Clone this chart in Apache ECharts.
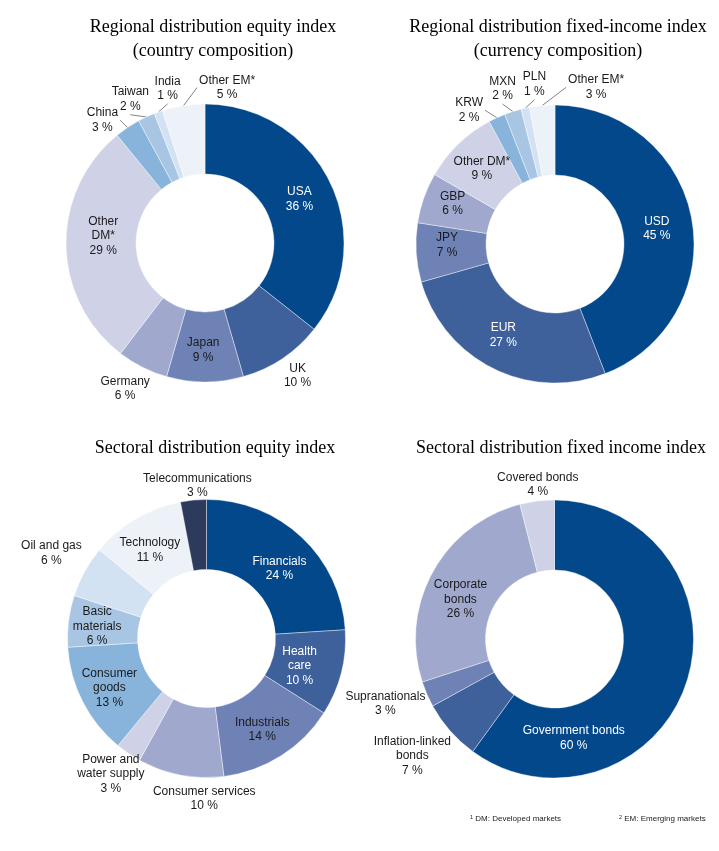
<!DOCTYPE html>
<html>
<head>
<meta charset="utf-8">
<script src="https://cdn.jsdelivr.net/npm/echarts@6/dist/echarts.min.js"></script>
<style>html,body{margin:0;padding:0;background:#fff}#c{width:719px;height:851px}</style>
</head>
<body>
<div id="c"></div>
<script>
// ---------- DATA ----------
const countryNames = ['USA', 'UK', 'Japan', 'Germany', 'Other\nDM*', 'China', 'Taiwan', 'India', 'Other EM*'];
const countryValues = [36, 10, 9, 6, 29, 3, 2, 1, 5];

const currencyNames = ['USD', 'EUR', 'JPY', 'GBP', 'Other DM*', 'KRW', 'MXN', 'PLN', 'Other EM*'];
const currencyValues = [45, 27, 7, 6, 9, 2, 2, 1, 3];

const sectorNames = ['Financials', 'Health\ncare', 'Industrials', 'Consumer services', 'Power and\nwater supply',
  'Consumer\ngoods', 'Basic\nmaterials', 'Oil and gas', 'Technology', 'Telecommunications'];
const sectorValues = [24, 10, 14, 10, 3, 13, 6, 6, 11, 3];

const fixedNames = ['Government bonds', 'Inflation-linked\nbonds', 'Supranationals', 'Corporate\nbonds', 'Covered bonds'];
const fixedValues = [60, 7, 3, 26, 4];

const chartTitles = [
  'Regional distribution equity index\n(country composition)',
  'Regional distribution fixed-income index\n(currency composition)',
  'Sectoral distribution equity index',
  'Sectoral distribution fixed income index'
];
const footnotes = ['{s|1} DM: Developed markets', '{s|2} EM: Emerging markets'];

// ---------- STYLE ----------
const C = {
  navy: '#03488a', blue2: '#3e609b', blue3: '#6f82b5', blue4: '#a0a9cd', lav: '#cfd1e7',
  sky1: '#88b4db', sky2: '#a8c6e4', sky3: '#d3e2f2', sky4: '#edf2f9', dark: '#2c3a5b'
};
const countryColors = [C.navy, C.blue2, C.blue3, C.blue4, C.lav, C.sky1, C.sky2, C.sky3, C.sky4];
const currencyColors = [C.navy, C.blue2, C.blue3, C.blue4, C.lav, C.sky1, C.sky2, C.sky3, C.sky4];
const sectorColors = [C.navy, C.blue2, C.blue3, C.blue4, C.lav, C.sky1, C.sky2, C.sky3, C.sky4, C.dark];
const fixedColors = [C.navy, C.blue2, C.blue3, C.blue4, C.lav];

// label placement: [radius, angle shift from slice mid-angle in degrees], leader line flag, white text flag
const countryPlace = [[104, 1], [162, -1], [107, 1], [166, 2], [102, 5], [160, -6], [162, -2.5], [159, 6], [157, 17]];
const countryLeader = [0, 0, 0, 0, 0, 1, 1, 1, 1];
const countryWhite = [1, 0, 0, 0, 0, 0, 0, 0, 0];

const currencyPlace = [[103, 2], [105, 3], [108, 3], [110, 2], [105, 0], [159, -8], [164, -1], [161, 5], [162, 20]];
const currencyLeader = [0, 0, 0, 0, 0, 1, 1, 1, 1];
const currencyWhite = [1, 1, 0, 0, 0, 0, 0, 0, 0];

const sectorPlace = [[101, 3], [97, 2], [107, 1], [160, -10], [166, 1], [109, 0], [110, -1], [177, 0], [105, -2], [153, 2]];
const sectorLeader = [0, 0, 0, 0, 0, 0, 0, 0, 0, 0];
const sectorWhite = [1, 1, 0, 0, 0, 0, 0, 0, 0, 0];

const fixedPlace = [[101, 61], [184, 2], [181, 2.5], [102, -6], [155, 1]];
const fixedLeader = [0, 0, 0, 0, 0];
const fixedWhite = [1, 0, 0, 0, 0];

const centers = [[205, 243], [555, 244], [206.5, 638.5], [554.5, 639]];
const RADIUS = [69, 139];

function makeSeries(names, values, colors, place, leader, white, center) {
  const total = values.reduce((a, b) => a + b, 0);
  const mids = [];
  let cum = 0;
  values.forEach(v => { mids.push((cum + v / 2) / total * 360); cum += v; });
  const data = names.map((n, i) => ({
    name: n,
    value: values[i],
    itemStyle: { color: colors[i] },
    label: {
      position: leader[i] ? 'outside' : 'inside',
      color: white[i] ? '#ffffff' : '#1a1a1a'
    },
    labelLine: { show: !!leader[i] }
  }));
  return {
    type: 'pie',
    center: center,
    radius: RADIUS,
    startAngle: 90,
    clockwise: true,
    avoidLabelOverlap: false,
    silent: true,
    itemStyle: { borderColor: '#ffffff', borderWidth: 0.4 },
    label: {
      show: true,
      formatter: p => p.name + '\n' + p.value + ' %',
      fontFamily: 'Liberation Sans, Arial, sans-serif',
      fontSize: 12,
      lineHeight: 14.5,
      padding: [1, 2]
    },
    labelLine: {
      show: false, length: 10, length2: 0, minTurnAngle: 0,
      lineStyle: { color: '#4d4d4d', width: 0.7 }
    },
    labelLayout: function (p) {
      const i = p.dataIndex;
      const r = place[i][0];
      const a = (mids[i] + place[i][1]) * Math.PI / 180;
      return {
        x: center[0] + r * Math.sin(a),
        y: center[1] - r * Math.cos(a),
        align: 'center',
        verticalAlign: 'middle'
      };
    },
    data: data
  };
}

const titleStyle = {
  fontFamily: 'Liberation Serif, Times New Roman, serif',
  fontSize: 18, fontWeight: 'normal', color: '#000', lineHeight: 24
};
const noteStyle = {
  fontFamily: 'Liberation Sans, Arial, sans-serif', fontSize: 8, fontWeight: 'normal', color: '#222',
  rich: { s: { fontFamily: 'Liberation Sans, Arial, sans-serif', fontSize: 5.5, color: '#222', verticalAlign: 'top', padding: [0, 0, 3, 0] } }
};

const chart = echarts.init(document.getElementById('c'), null, { renderer: 'canvas' });
chart.setOption({
  animation: false,
  backgroundColor: '#ffffff',
  title: [
    { text: chartTitles[0], left: 208, top: 10, textAlign: 'center', textStyle: titleStyle },
    { text: chartTitles[1], left: 553, top: 10, textAlign: 'center', textStyle: titleStyle },
    { text: chartTitles[2], left: 210, top: 431, textAlign: 'center', textStyle: titleStyle },
    { text: chartTitles[3], left: 556, top: 431, textAlign: 'center', textStyle: titleStyle },
    { text: footnotes[0], left: 465, top: 809, textStyle: noteStyle },
    { text: footnotes[1], left: 614, top: 809, textStyle: noteStyle }
  ],
  series: [
    makeSeries(countryNames, countryValues, countryColors, countryPlace, countryLeader, countryWhite, centers[0]),
    makeSeries(currencyNames, currencyValues, currencyColors, currencyPlace, currencyLeader, currencyWhite, centers[1]),
    makeSeries(sectorNames, sectorValues, sectorColors, sectorPlace, sectorLeader, sectorWhite, centers[2]),
    makeSeries(fixedNames, fixedValues, fixedColors, fixedPlace, fixedLeader, fixedWhite, centers[3])
  ]
});
</script>
</body>
</html>
